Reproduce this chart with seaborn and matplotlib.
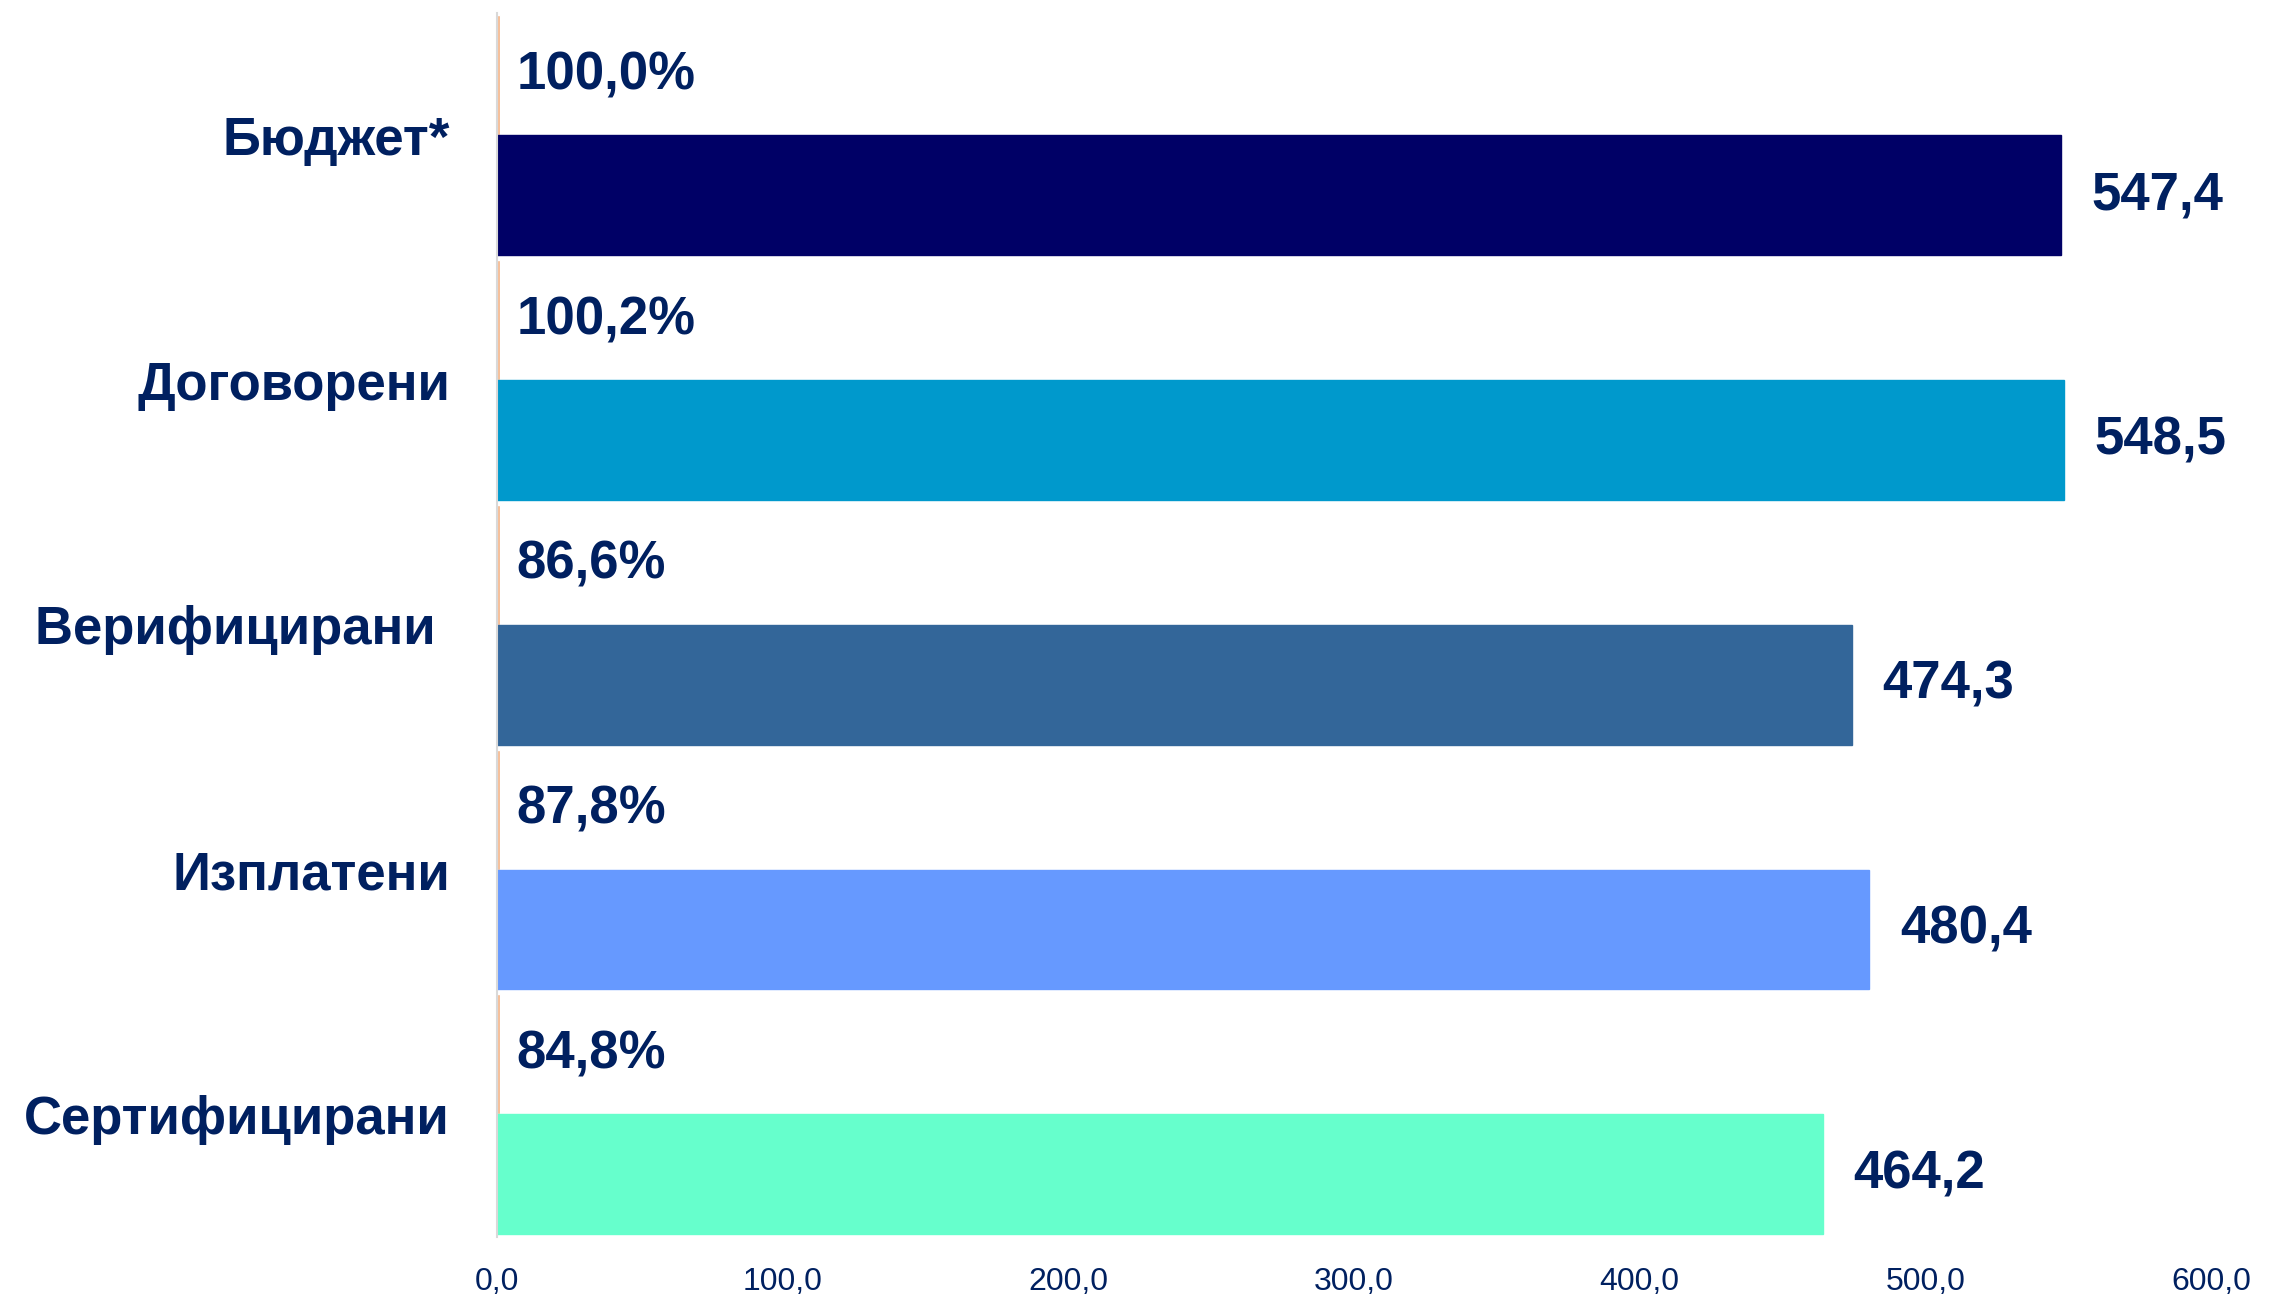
import pandas as pd
import matplotlib
matplotlib.use("Agg")
import matplotlib.pyplot as plt
import seaborn as sns

categories = ["Бюджет*", "Договорени", "Верифицирани ", "Изплатени", "Сертифицирани"]
amounts = [547.4, 548.5, 474.3, 480.4, 464.2]
percents = [100.0, 100.2, 86.6, 87.8, 84.8]
bar_colors = ["#000066", "#0099CC", "#336699", "#6699FF", "#66FFCC"]
x_ticks = [0, 100, 200, 300, 400, 500, 600]

TEXT = "#002060"

sns.set_theme(style="white")
plt.rcParams["font.family"] = ["Liberation Sans", "DejaVu Sans"]

df = pd.DataFrame({
    "cat": categories * 2,
    "series": ["pct"] * 5 + ["amount"] * 5,
    "value": [p / 100 for p in percents] + amounts,
})

fig = plt.figure(figsize=(22.7, 12.99), dpi=100)
ax = fig.add_axes([0.219, 0.048, 0.755, 0.942])

sns.barplot(data=df, y="cat", x="value", hue="series", orient="h",
            palette={"pct": "#F4B183", "amount": "#999999"},
            width=0.98, dodge=True, legend=False, ax=ax, errorbar=None,
            saturation=1)

# each category gets its own colour
for patch, c in zip(ax.containers[1], bar_colors):
    patch.set_facecolor(c)
    patch.set_edgecolor(c)

ax.bar_label(ax.containers[0], labels=[f"{p:.1f}".replace(".", ",") + "%" for p in percents],
             padding=12, color=TEXT, fontsize=38, fontweight="bold")
ax.bar_label(ax.containers[1], labels=[f"{v:.1f}".replace(".", ",") for v in amounts],
             padding=22, color=TEXT, fontsize=38, fontweight="bold")

ax.set_xlim(0, 600)
ax.set_ylim(4.5, -0.5)
ax.set_xticks(x_ticks)
ax.set_xticklabels([f"{t:.1f}".replace(".", ",") for t in x_ticks])
ax.set_xlabel("")
ax.set_ylabel("")
ax.tick_params(axis="x", length=0, pad=22, labelsize=23, labelcolor=TEXT)
ax.tick_params(axis="y", length=0, pad=34, labelsize=38, labelcolor=TEXT)
for lbl in ax.get_yticklabels():
    lbl.set_fontweight("bold")

for s in ["top", "right", "bottom"]:
    ax.spines[s].set_visible(False)
ax.spines["left"].set_color("#D9D9D9")
ax.spines["left"].set_linewidth(1.5)

fig.savefig("out.png", dpi=100)
